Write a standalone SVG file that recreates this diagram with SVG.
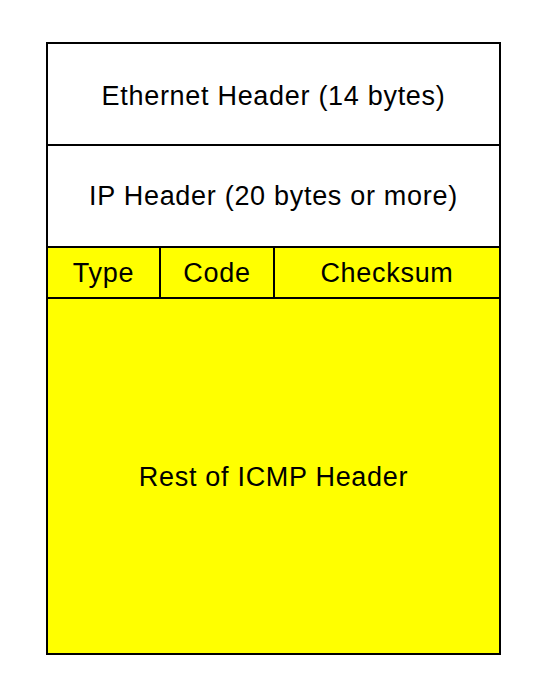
<svg xmlns="http://www.w3.org/2000/svg" width="544" height="688" viewBox="0 0 544 688">
<style>
.b{stroke:#000;stroke-width:2;}
text{font-family:"Liberation Sans",Arial,sans-serif;font-size:27px;letter-spacing:0.7px;fill:#000;text-anchor:middle;}
</style>
<rect width="544" height="688" fill="#fff"/>
<g id="ethernet"><rect class="b" x="47" y="43" width="453" height="102" fill="#fff"/><text x="273.5" y="105">Ethernet Header (14 bytes)</text></g>
<g id="ip"><rect class="b" x="47" y="145" width="453" height="102" fill="#fff"/><text x="273.5" y="205">IP Header (20 bytes or more)</text></g>
<g id="type"><rect class="b" x="47" y="247" width="113" height="51" fill="#ffff00"/><text x="103.5" y="282">Type</text></g>
<g id="code"><rect class="b" x="160" y="247" width="114" height="51" fill="#ffff00"/><text x="217" y="282">Code</text></g>
<g id="checksum"><rect class="b" x="274" y="247" width="226" height="51" fill="#ffff00"/><text x="387" y="282">Checksum</text></g>
<g id="rest"><rect class="b" x="47" y="298" width="453" height="356" fill="#ffff00"/><text x="273.5" y="486">Rest of ICMP Header</text></g>
<g id="connectors"></g>
</svg>
